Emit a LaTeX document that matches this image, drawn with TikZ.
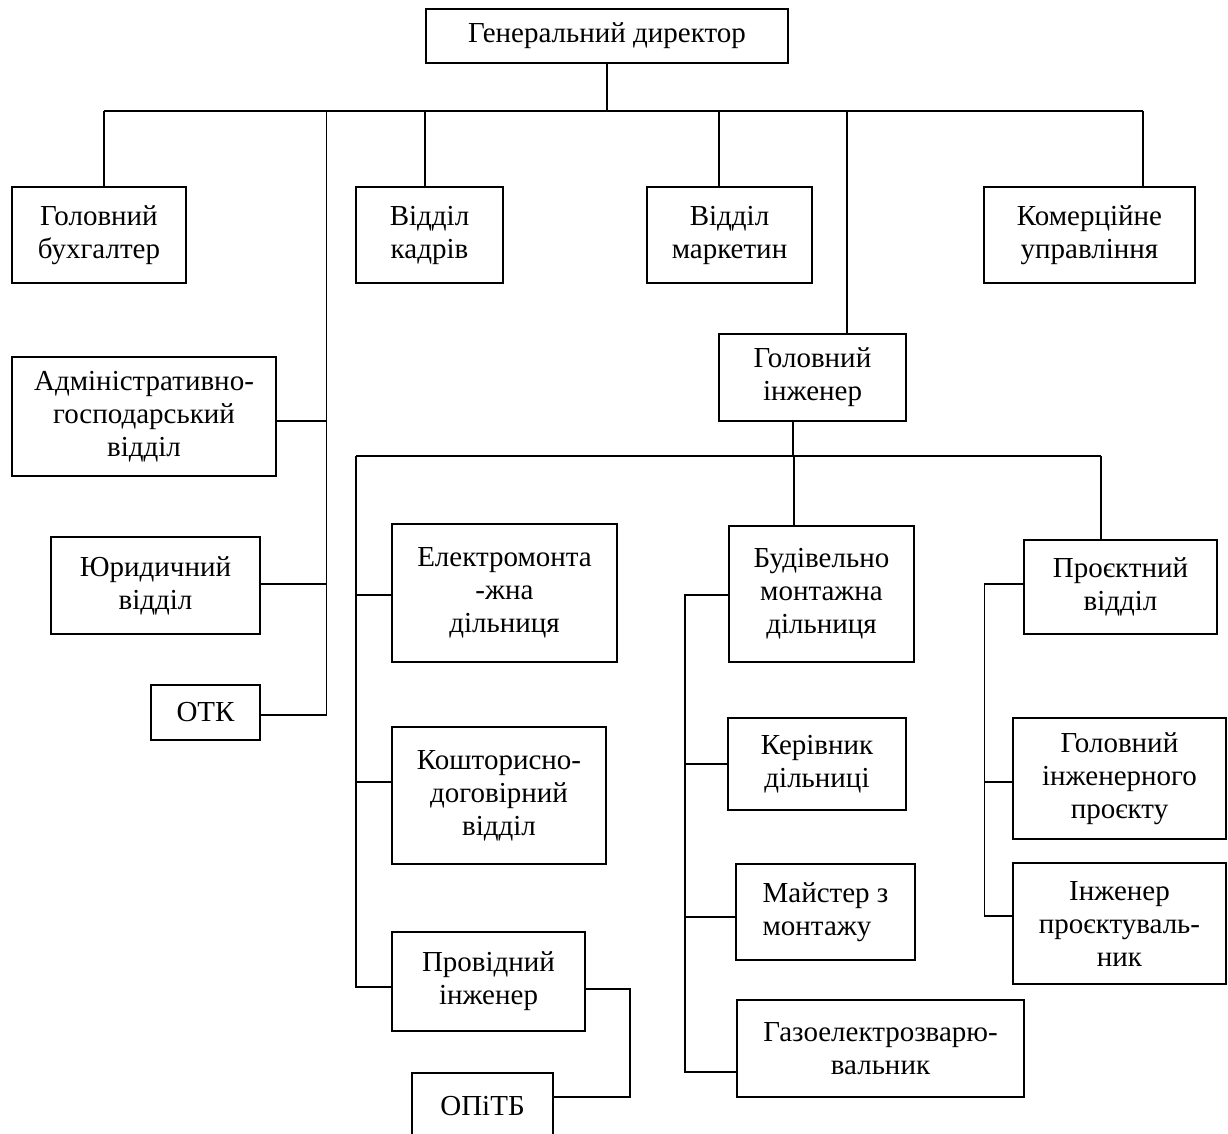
\documentclass[tikz,border=0pt]{standalone}
\usepackage{fontspec}
\setmainfont{Liberation Serif}
\begin{document}
\begin{tikzpicture}[x=1pt,y=-1pt,
  box/.style={draw, line width=1.7pt, align=center, inner sep=0pt, font=\fontsize{29}{33}\selectfont},
  ln/.style={line width=1.5pt}]
\useasboundingbox (0,0) rectangle (1228,1133);
% nodes
\node[box, minimum width=362pt, minimum height=54pt] (gd) at (607,36) {Генеральний директор};
\node[box, minimum width=174pt, minimum height=96pt] (gb) at (99,235) {Головний\\бухгалтер};
\node[box, minimum width=147pt, minimum height=96pt] (vk) at (429.5,235) {Відділ\\кадрів};
\node[box, minimum width=165pt, minimum height=96pt] (vm) at (729.5,235) {Відділ\\маркетин};
\node[box, minimum width=211pt, minimum height=96pt] (ku) at (1089.5,235) {Комерційне\\управління};
\node[box, minimum width=264pt, minimum height=119pt] (ag) at (144,416.5) {Адміністративно-\\господарський\\відділ};
\node[box, minimum width=209pt, minimum height=97pt] (yu) at (155.5,585.5) {Юридичний\\відділ};
\node[box, minimum width=109pt, minimum height=55pt] (otk) at (205.5,712.5) {ОТК};
\node[box, minimum width=187pt, minimum height=87pt] (gi) at (812.5,377.5) {Головний\\інженер};
\node[box, minimum width=225pt, minimum height=138pt] (em) at (504.5,593) {Електромонта\\-жна\\дільниця};
\node[box, minimum width=214pt, minimum height=137pt] (kd) at (499,795.5) {Кошторисно-\\договірний\\відділ};
\node[box, minimum width=193pt, minimum height=99pt] (pi) at (488.5,981.5) {Провідний\\інженер};
\node[box, minimum width=141pt, minimum height=67pt] (opitb) at (482.5,1106.5) {ОПіТБ};
\node[box, minimum width=185pt, minimum height=136pt] (bm) at (821.5,594) {Будівельно\\монтажна\\дільниця};
\node[box, minimum width=178pt, minimum height=92pt] (kv) at (817,764) {Керівник\\дільниці};
\node[box, minimum width=179pt, minimum height=96pt, align=left] (mz) at (825.5,912) {Майстер з\\монтажу};
\node[box, minimum width=287pt, minimum height=97pt] (gz) at (880.5,1048.5) {Газоелектрозварю-\\вальник};
\node[box, minimum width=193pt, minimum height=94pt] (pv) at (1120.5,587) {Проєктний\\відділ};
\node[box, minimum width=213pt, minimum height=121pt] (gip) at (1119.5,778.5) {Головний\\інженерного\\проєкту};
\node[box, minimum width=213pt, minimum height=121pt] (ip) at (1119.5,923.5) {Інженер\\проєктуваль-\\ник};
% coordinates
\coordinate (d1) at (104,111);
\coordinate (d2) at (326.5,111);
\coordinate (d3) at (425,111);
\coordinate (d4) at (719,111);
\coordinate (d5) at (847,111);
\coordinate (d6) at (1143,111);
\coordinate (a1) at (326.5,421);
\coordinate (a2) at (326.5,584);
\coordinate (a3) at (326.5,715);
\coordinate (e0) at (793,456);
\coordinate (e2) at (794,456);
\coordinate (e3) at (1101,456);
\coordinate (c0) at (356,456);
\coordinate (c1) at (356,595);
\coordinate (c2) at (356,782);
\coordinate (c3) at (356,987);
\coordinate (f0) at (685,595);
\coordinate (f1) at (685,764);
\coordinate (f2) at (685,917);
\coordinate (f3) at (685,1072);
\coordinate (g0) at (984.5,584);
\coordinate (g1) at (984.5,782);
\coordinate (g2) at (984.5,916);
\coordinate (h0) at (630,989);
\coordinate (h1) at (630,1097);
% connectors
\draw[ln] (gd.south) -- (gd.south |- d1);
\draw[ln] (d1) -- (d6);
\draw[ln] (d1) -- (d1 |- gb.north);
\draw[ln] (d3) -- (d3 |- vk.north);
\draw[ln] (d4) -- (d4 |- vm.north);
\draw[ln] (d5) -- (d5 |- gi.north);
\draw[ln] (d6) -- (d6 |- ku.north);
\draw[ln] (d2) -- (a3) -- (otk.east |- a3);
\draw[ln] (a1) -- (ag.east |- a1);
\draw[ln] (a2) -- (yu.east |- a2);
\draw[ln] (e0 |- gi.south) -- (e0);
\draw[ln] (c0) -- (e3);
\draw[ln] (e2) -- (e2 |- bm.north);
\draw[ln] (e3) -- (e3 |- pv.north);
\draw[ln] (c0) -- (c3) -- (pi.west |- c3);
\draw[ln] (c1) -- (em.west |- c1);
\draw[ln] (c2) -- (kd.west |- c2);
\draw[ln] (pi.east |- h0) -- (h0) -- (h1) -- (opitb.east |- h1);
\draw[ln] (bm.west |- f0) -- (f0) -- (f3) -- (gz.west |- f3);
\draw[ln] (f1) -- (kv.west |- f1);
\draw[ln] (f2) -- (mz.west |- f2);
\draw[ln] (pv.west |- g0) -- (g0) -- (g2) -- (ip.west |- g2);
\draw[ln] (g1) -- (gip.west |- g1);
\end{tikzpicture}
\end{document}
